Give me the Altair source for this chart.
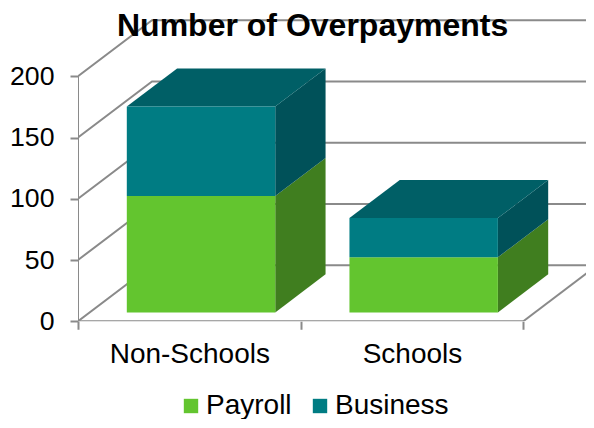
import altair as alt
import pandas as pd

title = "Number of Overpayments"
categories = ["Non-Schools", "Schools"]
series = ["Payroll", "Business"]
payroll = [95, 45]
business = [73, 32]
y_ticks = [0, 50, 100, 150, 200]

front_colors = ["#63C52F", "#007C83"]
side_colors = ["#407E1F", "#005159"]
top_colors = ["#4F9E26", "#005F66"]
grid_color = "#8A8A8A"
FONT = "Liberation Sans"

# oblique projection of the depth axis, in data units per unit of depth
DX, DY = 0.3324, 45.7
D0, D1 = 0.158, 0.838
INSET = 1 / 6
WIDTH, HEIGHT = 508, 306.25
X_DOMAIN = [0, WIDTH / 222.65]
Y_DOMAIN = [0, 250]

x_s = alt.Scale(domain=X_DOMAIN, nice=False, zero=False)
y_s = alt.Scale(domain=Y_DOMAIN, nice=False, zero=False)


def px(c, d):
    return c + d * DX


def py(v, d):
    return v + d * DY


# frame lines
lines = []
for i, v in enumerate(y_ticks):
    lines += [
        dict(id=f"g{v}", o=0, x=px(0, 0), y=py(v, 0)),
        dict(id=f"g{v}", o=1, x=px(0, 1), y=py(v, 1)),
        dict(id=f"g{v}", o=2, x=px(2, 1), y=py(v, 1)),
    ]
lines += [
    dict(id="axisy", o=0, x=0, y=0),
    dict(id="axisy", o=1, x=0, y=200),
    dict(id="axisx", o=0, x=0, y=0),
    dict(id="axisx", o=1, x=2, y=0),
    dict(id="floor", o=0, x=px(2, 0), y=py(0, 0)),
    dict(id="floor", o=1, x=px(2, 1), y=py(0, 1)),
]

front, side, top = [], [], []
for i, cat in enumerate(categories):
    base = 0
    x0, x1 = i + INSET, i + 1 - INSET
    for s, vals, sc in zip(series, [payroll, business], side_colors):
        v = vals[i]
        tip = base + v
        front.append(dict(series=s, x=px(x0, D0), x2=px(x1, D0), y=py(base, D0), y2=py(tip, D0)))
        sid = f"{cat}-{s}"
        for d in (D0, D1):
            side.append(dict(id=sid, color=sc, x=px(x1, d), y=py(base, d), y2=py(tip, d)))
        base = tip
    for d in (D0, D1):
        top.append(dict(id=cat, color=top_colors[1], y=py(base, d), x=px(x0, d), x2=px(x1, d)))

grid = alt.Chart(pd.DataFrame(lines)).mark_line(color=grid_color, strokeWidth=2, clip=True).encode(
    x=alt.X("x:Q", scale=x_s, title=None, axis=alt.Axis(
        values=[0, 0.5, 1, 1.5, 2], domain=False, grid=False, tickColor=grid_color, tickWidth=2, tickSize=8,
        tickOpacity={"condition": {"test": "datum.value==0.5||datum.value==1.5", "value": 0}, "value": 1},
        labelExpr=f"datum.value==0.5?'{categories[0]}':datum.value==1.5?'{categories[1]}':''",
        labelFont=FONT, labelFontSize=28, labelColor="#000000", labelPadding=11, labelOverlap=False,
    )),
    y=alt.Y("y:Q", scale=y_s, title=None, axis=alt.Axis(
        values=y_ticks, domain=False, grid=False, tickColor=grid_color, tickWidth=2, tickSize=8,
        labelFont=FONT, labelFontSize=26.67, labelColor="#000000", labelPadding=16,
    )),
    detail="id:N",
    order="o:Q",
)

side_layer = alt.Chart(pd.DataFrame(side)).mark_area(orient="vertical").encode(
    x=alt.X("x:Q", scale=x_s),
    y=alt.Y("y:Q", scale=y_s),
    y2="y2:Q",
    detail="id:N",
    fill=alt.Fill("color:N", scale=None),
)

top_layer = alt.Chart(pd.DataFrame(top)).mark_area(orient="horizontal").encode(
    y=alt.Y("y:Q", scale=y_s),
    x=alt.X("x:Q", scale=x_s),
    x2="x2:Q",
    detail="id:N",
    fill=alt.Fill("color:N", scale=None),
)

front_layer = alt.Chart(pd.DataFrame(front)).mark_rect().encode(
    x=alt.X("x:Q", scale=x_s),
    x2="x2:Q",
    y=alt.Y("y:Q", scale=y_s),
    y2="y2:Q",
    color=alt.Color("series:N", scale=alt.Scale(domain=series, range=front_colors), title=None, legend=alt.Legend(
        orient="none", legendX=99, legendY=377, direction="horizontal", symbolType="square", symbolSize=207,
        symbolStrokeWidth=0, symbolOpacity=1, labelFont=FONT, labelFontSize=28, labelColor="#000000",
        columnPadding=14, labelOffset=1, padding=0,
    )),
)

chart = alt.layer(grid, side_layer, top_layer, front_layer).properties(
    width=WIDTH,
    height=HEIGHT,
    padding={"left": 70, "top": 7, "right": 0, "bottom": 98},
    autosize=alt.AutoSizeParams(type="none"),
    title=alt.TitleParams(title, font=FONT, fontSize=32, fontWeight="bold", color="#000000",
                          anchor="start", frame="group", dx=39, dy=53, baseline="alphabetic", offset=0),
).configure_view(stroke=None)

chart.save("out.html", embed_options={"renderer": "svg", "actions": False})
